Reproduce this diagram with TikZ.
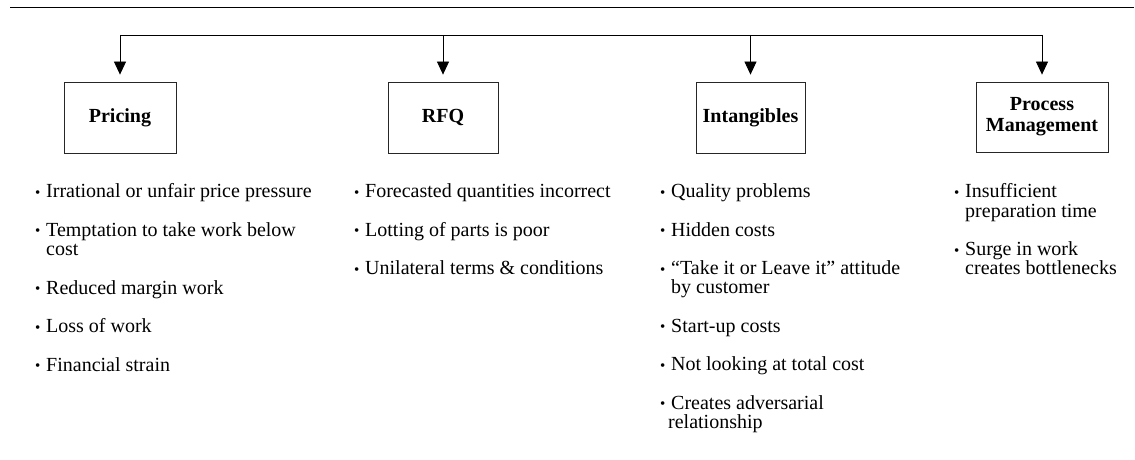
\documentclass[tikz,border=0pt]{standalone}
\usepackage{fontspec}
\setmainfont{Liberation Serif}
\usetikzlibrary{arrows.meta}

\newcommand\bul{\makebox[11pt][l]{\raisebox{0.5pt}{\fontsize{15}{15}\selectfont\textbullet}}}
\newcommand\hang{\hspace*{11pt}}

\begin{document}
\begin{tikzpicture}[x=1pt, y=-1pt,
    box/.style={draw=black!85, line width=0.8pt, minimum height=71pt, inner sep=0pt,
        align=center, font=\fontsize{20}{21}\selectfont\bfseries},
    arr/.style={-{Triangle[width=12pt,length=13pt]}, line width=0.8pt, shorten >=7pt},
    list/.style={anchor=north west, align=left, inner sep=0pt,
        font=\fontsize{20}{19.25}\selectfont}]
    \useasboundingbox (0,0) rectangle (1135,460);
    \draw[line width=0.8pt] (10,7) -- (1134,7);

    % heading boxes
    \node[box, minimum width=112pt] (pricing) at (120,117.5) {Pricing};
    \node[box, minimum width=110pt] (rfq) at (443,117.5) {RFQ};
    \node[box, minimum width=109pt] (intang) at (750.5,117.5) {Intangibles};
    \node[box, minimum width=132pt, minimum height=70pt] (procman) at (1042,117) {Process\\Management};

    % bus and arrows
    \coordinate (bus1) at (120,35);
    \coordinate (bus2) at (443,35);
    \coordinate (bus3) at (750.5,35);
    \coordinate (bus4) at (1042,35);
    \draw[line width=0.8pt] (bus1) -- (bus4);
    \draw[arr] (bus1) -- (pricing.north);
    \draw[arr] (bus2) -- (rfq.north);
    \draw[arr] (bus3) -- (intang.north);
    \draw[arr] (bus4) -- (procman.north);

    % lists
    \node[list] (pricelist) at (35,183.5) {\bul Irrational or unfair price pressure\\[19.25pt]
        \bul Temptation to take work below\\ \hang cost\\[19.25pt]
        \bul Reduced margin work\\[19.25pt]
        \bul Loss of work\\[19.25pt]
        \bul Financial strain};
    \node[list] (rfqlist) at (354,183.5) {\bul Forecasted quantities incorrect\\[19.25pt]
        \bul Lotting of parts is poor\\[19.25pt]
        \bul Unilateral terms \& conditions};
    \node[list] (intlist) at (660,183.5) {\bul Quality problems\\[19.25pt]
        \bul Hidden costs\\[19.25pt]
        \bul ``Take it or Leave it'' attitude\\ \hang by customer\\[19.25pt]
        \bul Start-up costs\\[19.25pt]
        \bul Not looking at total cost\\[19.25pt]
        \bul Creates adversarial\\ \hspace*{8pt}relationship};
    \node[list] (proclist) at (954,183.5) {\bul Insufficient\\ \hang preparation time\\[19.25pt]
        \bul Surge in work\\ \hang creates bottlenecks};
\end{tikzpicture}
\end{document}
